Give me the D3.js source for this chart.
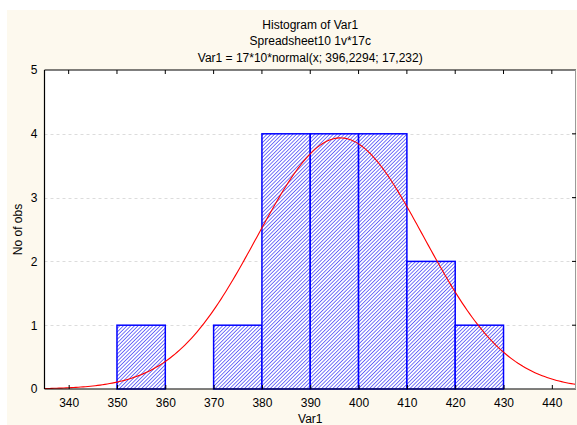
<!DOCTYPE html>
<html>
<head>
<meta charset="utf-8">
<script src="https://cdn.jsdelivr.net/npm/d3@7"></script>
<style>
  html, body { margin: 0; padding: 0; background: #ffffff; }
  svg { display: block; font-family: "Liberation Sans", Arial, sans-serif; }
</style>
</head>
<body>
<svg id="chart" width="577" height="425"></svg>
<script>
// Histogram bins (lower edge, upper edge) and counts
const binStart = [350, 360, 370, 380, 390, 400, 410, 420];
const binEnd   = [360, 370, 380, 390, 400, 410, 420, 430];
const counts   = [1, 0, 1, 4, 4, 4, 2, 1];

// Fitted normal curve parameters: N * binWidth * normal(x; mean; sd)
const nObs = 17;
const binWidth = 10;
const mean = 396.2294;
const sd = 17.232;

const xTicks = [340, 350, 360, 370, 380, 390, 400, 410, 420, 430, 440];
const yTicks = [0, 1, 2, 3, 4, 5];
const titleLines = ["Histogram of Var1", "Spreadsheet10 1v*17c", "Var1 = 17*10*normal(x; 396,2294; 17,232)"];

const svg = d3.select("#chart");
const W = 577, H = 425;
const plot = { left: 44.5, right: 576, top: 70, bottom: 389 };
const fs = 12;

// page background
svg.append("rect").attr("x", 7).attr("y", 10).attr("width", W - 7).attr("height", H - 10)
  .attr("fill", "#fdf9ee");

const x = d3.scaleLinear().domain([335, 445]).range([plot.left, plot.right]);
const y = d3.scaleLinear().domain([0, 5]).range([plot.bottom, plot.top]);

// hatch fill for bars
const defs = svg.append("defs");
const step = 2.6;
const pat = defs.append("pattern").attr("id", "hatch")
  .attr("patternUnits", "userSpaceOnUse").attr("width", step).attr("height", step)
  .attr("patternTransform", "rotate(45)");
pat.append("rect").attr("width", step).attr("height", step).attr("fill", "#ffffff");
pat.append("line").attr("x1", 0).attr("y1", 0).attr("x2", 0).attr("y2", step)
  .attr("stroke", "#4848f8").attr("stroke-width", 1.5);

defs.append("clipPath").attr("id", "plotClip").append("rect")
  .attr("x", plot.left).attr("y", plot.top)
  .attr("width", plot.right - plot.left).attr("height", plot.bottom - plot.top);

// plot area
svg.append("rect").attr("x", plot.left).attr("y", plot.top)
  .attr("width", plot.right - plot.left).attr("height", plot.bottom - plot.top)
  .attr("fill", "#ffffff");

// horizontal grid
svg.append("g").selectAll("line").data(yTicks.filter(d => d > 0 && d < 5)).join("line")
  .attr("x1", plot.left).attr("x2", plot.right)
  .attr("y1", d => Math.round(y(d)) + 0.5).attr("y2", d => Math.round(y(d)) + 0.5)
  .attr("stroke", "#dcdcdc").attr("stroke-width", 1).attr("stroke-dasharray", "3,3");

// bars
const bins = binStart.map((s, i) => ({ s, e: binEnd[i], c: counts[i] })).filter(d => d.c > 0);
svg.append("g").selectAll("rect").data(bins).join("rect")
  .attr("x", d => x(d.s)).attr("y", d => y(d.c))
  .attr("width", d => x(d.e) - x(d.s)).attr("height", d => y(0) - y(d.c))
  .attr("fill", "url(#hatch)").attr("stroke", "#0000ff").attr("stroke-width", 1.5);

// fitted normal curve
const pdf = v => nObs * binWidth * Math.exp(-0.5 * ((v - mean) / sd) ** 2) / (sd * Math.sqrt(2 * Math.PI));
const curvePts = d3.range(335, 445.01, 0.5).map(v => [v, pdf(v)]);
svg.append("path").datum(curvePts)
  .attr("clip-path", "url(#plotClip)")
  .attr("d", d3.line().x(d => x(d[0])).y(d => y(d[1])))
  .attr("fill", "none").attr("stroke", "#ff0000").attr("stroke-width", 1.1);

// frame
svg.append("line").attr("x1", plot.left).attr("x2", plot.left).attr("y1", plot.top).attr("y2", plot.bottom)
  .attr("stroke", "#000").attr("stroke-width", 1.2);
svg.append("line").attr("x1", plot.left).attr("x2", plot.right).attr("y1", plot.bottom).attr("y2", plot.bottom)
  .attr("stroke", "#000").attr("stroke-width", 1.2);
svg.append("line").attr("x1", plot.left).attr("x2", plot.right).attr("y1", plot.top).attr("y2", plot.top)
  .attr("stroke", "#000").attr("stroke-width", 1.2);
svg.append("line").attr("x1", plot.right - 0.5).attr("x2", plot.right - 0.5).attr("y1", plot.top).attr("y2", plot.bottom)
  .attr("stroke", "#9a9a9a").attr("stroke-width", 1);

// x axis (ticks point inward)
const xAxis = svg.append("g").attr("transform", `translate(0,${plot.bottom})`)
  .call(d3.axisBottom(x).tickValues(xTicks).tickSizeInner(-4).tickSizeOuter(0).tickPadding(9).tickFormat(d3.format("d")));
xAxis.select(".domain").remove();
xAxis.selectAll("text").attr("font-size", fs).attr("fill", "#000").attr("font-family", "Liberation Sans, Arial, sans-serif");

// mirrored x ticks along the top
svg.append("g").selectAll("line").data(xTicks).join("line")
  .attr("x1", d => x(d)).attr("x2", d => x(d)).attr("y1", plot.top).attr("y2", plot.top + 4)
  .attr("stroke", "#000");

// y axis
const yAxis = svg.append("g").attr("transform", `translate(${plot.left},0)`)
  .call(d3.axisLeft(y).tickValues(yTicks).tickSizeInner(0).tickSizeOuter(0).tickPadding(7).tickFormat(d3.format("d")));
yAxis.select(".domain").remove();
yAxis.selectAll("text").attr("font-size", fs).attr("fill", "#000").attr("font-family", "Liberation Sans, Arial, sans-serif");

// right-side ticks
svg.append("g").selectAll("line").data(yTicks.filter(d => d > 0 && d < 5)).join("line")
  .attr("x1", plot.right - 4).attr("x2", plot.right).attr("y1", d => y(d)).attr("y2", d => y(d))
  .attr("stroke", "#000");

// titles
const cx = (plot.left + plot.right) / 2;
svg.append("g").selectAll("text").data(titleLines).join("text")
  .attr("x", cx).attr("y", (d, i) => 28.5 + i * 16.5)
  .attr("text-anchor", "middle").attr("font-size", fs).attr("fill", "#000")
  .text(d => d);

// axis titles
svg.append("text").attr("x", cx).attr("y", 423).attr("text-anchor", "middle")
  .attr("font-size", fs).attr("fill", "#000").text("Var1");
svg.append("text").attr("transform", `translate(22,${(plot.top + plot.bottom) / 2}) rotate(-90)`)
  .attr("text-anchor", "middle").attr("font-size", fs).attr("fill", "#000").text("No of obs");
</script>
</body>
</html>
